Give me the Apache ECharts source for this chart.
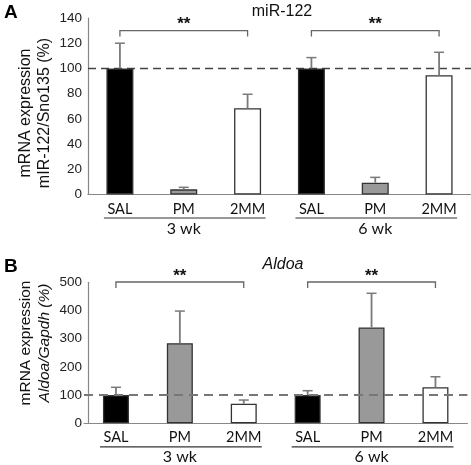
<!DOCTYPE html>
<html>
<head>
<meta charset="utf-8">
<script src="https://cdn.jsdelivr.net/npm/echarts@6/dist/echarts.min.js"></script>
<style>html,body{margin:0;padding:0;background:#fff;}#c{width:471px;height:465px;}</style>
</head>
<body>
<div id="c"></div>
<script>
// ---- data ----
const categories = ['SAL', 'PM', '2MM', 'SAL', 'PM', '2MM'];
const groups = ['3 wk', '6 wk'];
const groupSpans = [[0, 2], [3, 5]];
const mirMean = [100, 4.1, 68.4, 100, 9.4, 94.6];
const mirErr = [20, 1.6, 11.1, 8.6, 4.2, 18.2];
const aldoaMean = [100, 284, 69.5, 100, 340, 128];
const aldoaErr = [27.6, 114, 13, 15.6, 121, 37];
const sigLabels = ['**', '**'];
const mirSigLevel = [130, 130];
const aldoaSigLevel = [501, 501];
const mirTicks = { min: 0, max: 140, interval: 20 };
const aldoaTicks = { min: 0, max: 500, interval: 100 };
const referenceLevel = 100;

// ---- styles ----
const fillColors = ['#000000', '#999999', '#ffffff'];

function barData(means) {
  return means.map((v, i) => ({
    value: v,
    itemStyle: { color: fillColors[i % 3], borderColor: '#333', borderWidth: 1.3 }
  }));
}
function errData(means, errs) {
  return means.map((v, i) => [i, v, v + errs[i]]);
}
function errRender(params, api) {
  const base = api.coord([api.value(0), api.value(1)]);
  const top = api.coord([api.value(0), api.value(2)]);
  const cap = 5;
  return {
    type: 'group',
    children: [
      { type: 'line', shape: { x1: base[0], y1: base[1], x2: top[0], y2: top[1] }, style: { stroke: '#7a7a7a', lineWidth: 1.8 } },
      { type: 'line', shape: { x1: top[0] - cap, y1: top[1], x2: top[0] + cap, y2: top[1] }, style: { stroke: '#7a7a7a', lineWidth: 1.5 } }
    ]
  };
}
function sigData(levels) {
  return groupSpans.map((s, i) => [s[0], s[1], levels[i]]);
}
function sigRender(params, api) {
  const s = api.coord([api.value(0), api.value(2)]);
  const e = api.coord([api.value(1), api.value(2)]);
  const drop = 6;
  return {
    type: 'group',
    children: [
      { type: 'polyline', shape: { points: [[s[0], s[1] + drop], [s[0], s[1]], [e[0], e[1]], [e[0], e[1] + drop]] },
        style: { stroke: '#666', lineWidth: 1.3, fill: null } },
      { type: 'text', x: (s[0] + e[0]) / 2, y: s[1] - 6,
        style: { text: sigLabels[params.dataIndex], align: 'center', verticalAlign: 'middle', font: 'bold 17px "Liberation Sans", Arial', fill: '#111' } }
    ]
  };
}
function groupRender(params, api) {
  const s = api.coord([api.value(0), 0]);
  const e = api.coord([api.value(1), 0]);
  const y = s[1] + 23.5;
  return {
    type: 'group',
    children: [
      { type: 'line', shape: { x1: s[0] - 16, y1: y, x2: e[0] + 18, y2: y }, style: { stroke: '#333', lineWidth: 1.2 } },
      { type: 'text', x: (s[0] + e[0]) / 2, y: y + 10.5,
        style: { text: groups[params.dataIndex], align: 'center', verticalAlign: 'middle', font: '16px Lato, "Open Sans", sans-serif', fill: '#111' } }
    ]
  };
}

function xAxisCfg(gi) {
  return {
    type: 'category', gridIndex: gi, data: categories,
    axisTick: { show: false },
    axisLine: { lineStyle: { color: '#888', width: 1.2 } },
    axisLabel: { color: '#111', fontFamily: 'Lato, "Open Sans", sans-serif', fontSize: 14.5, margin: 7 }
  };
}
function yAxisCfg(gi, t, offset) {
  return {
    type: 'value', gridIndex: gi, min: t.min, max: t.max, interval: t.interval, offset: offset,
    splitLine: { show: false },
    axisTick: { show: false },
    axisLine: { show: true, lineStyle: { color: '#888', width: 1.2 } },
    axisLabel: { color: '#222', fontFamily: '"Liberation Sans", Arial', fontSize: 13.5, margin: 6 }
  };
}

const chart = echarts.init(document.getElementById('c'), null, { renderer: 'canvas' });
chart.setOption({
  animation: false,
  backgroundColor: '#ffffff',
  grid: [
    { left: 88, top: 18, width: 391, height: 176.5 },
    { left: 84, top: 282.3, width: 383.4, height: 141 }
  ],
  xAxis: [xAxisCfg(0), xAxisCfg(1)],
  yAxis: [yAxisCfg(0, mirTicks, 0), yAxisCfg(1, aldoaTicks, -4)],
  graphic: [
    { type: 'text', x: 4, y: 3, style: { text: 'A', font: 'bold 19px "Liberation Sans", Arial', fill: '#000' } },
    { type: 'text', x: 4, y: 257, style: { text: 'B', font: 'bold 19px "Liberation Sans", Arial', fill: '#000' } },
    { type: 'text', x: 282, y: 12, style: { text: 'miR-122', align: 'center', verticalAlign: 'middle', font: '16px "Liberation Sans", Arial', fill: '#111' } },
    { type: 'text', x: 283, y: 265, style: { text: 'Aldoa', align: 'center', verticalAlign: 'middle', font: 'italic 16px "Liberation Sans", Arial', fill: '#111' } },
    { type: 'text', x: 35.5, y: 113, rotation: Math.PI / 2,
      style: { text: 'mRNA expression\nmIR-122/Sno135 (%)', align: 'center', verticalAlign: 'middle',
        font: '16px "Liberation Sans", Arial', lineHeight: 19, fill: '#111' } },
    { type: 'text', x: 35, y: 343, rotation: Math.PI / 2,
      style: { text: '{a|mRNA expression}\n{b|Aldoa/Gapdh (%)}', align: 'center', verticalAlign: 'middle', fill: '#111',
        rich: {
          a: { font: '15.5px "Liberation Sans", Arial', lineHeight: 18.5, fill: '#111' },
          b: { font: 'italic 15.5px "Liberation Sans", Arial', lineHeight: 18.5, fill: '#111' }
        } } }
  ],
  series: [
    { type: 'bar', xAxisIndex: 0, yAxisIndex: 0, barWidth: 27, data: barData(mirMean), z: 2,
      markLine: { silent: true, symbol: 'none', label: { show: false }, z: 1,
        lineStyle: { color: '#444', width: 1.3, type: [8, 5] }, data: [{ yAxis: referenceLevel }] } },
    { type: 'custom', xAxisIndex: 0, yAxisIndex: 0, data: errData(mirMean, mirErr), encode: { x: 0, y: [1, 2] }, renderItem: errRender, z: 3 },
    { type: 'custom', xAxisIndex: 0, yAxisIndex: 0, data: sigData(mirSigLevel), encode: { x: [0, 1], y: 2 }, renderItem: sigRender, clip: false, z: 3 },
    { type: 'custom', xAxisIndex: 0, yAxisIndex: 0, data: groupSpans, encode: { x: [0, 1] }, renderItem: groupRender, clip: false, z: 3 },

    { type: 'bar', xAxisIndex: 1, yAxisIndex: 1, barWidth: 26, data: barData(aldoaMean), z: 2,
      markLine: { silent: true, symbol: 'none', label: { show: false }, z: 5,
        lineStyle: { color: '#777', width: 1.8, type: [9, 6] }, data: [{ yAxis: referenceLevel }] } },
    { type: 'custom', xAxisIndex: 1, yAxisIndex: 1, data: errData(aldoaMean, aldoaErr), encode: { x: 0, y: [1, 2] }, renderItem: errRender, z: 3 },
    { type: 'custom', xAxisIndex: 1, yAxisIndex: 1, data: sigData(aldoaSigLevel), encode: { x: [0, 1], y: 2 }, renderItem: sigRender, clip: false, z: 3 },
    { type: 'custom', xAxisIndex: 1, yAxisIndex: 1, data: groupSpans, encode: { x: [0, 1] }, renderItem: groupRender, clip: false, z: 3 }
  ]
});
</script>
</body>
</html>
